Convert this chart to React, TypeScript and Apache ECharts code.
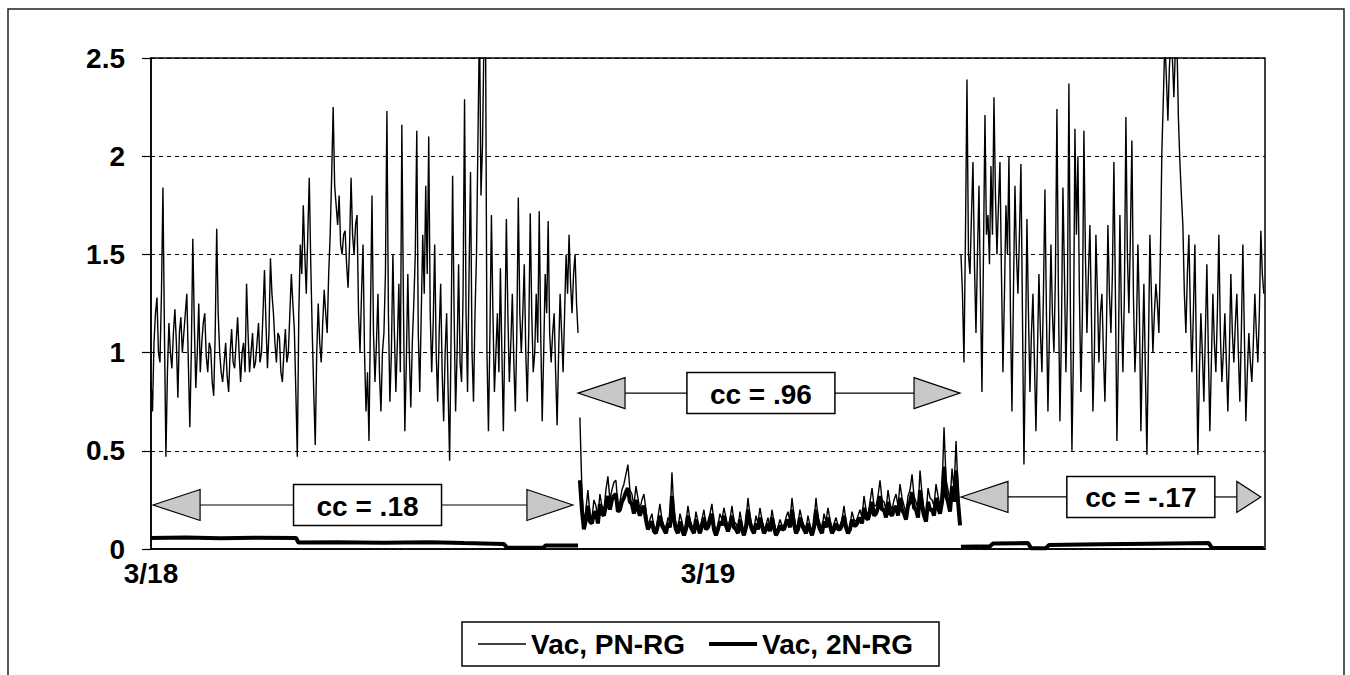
import React, { useEffect, useRef } from "react";
import * as echarts from "echarts";

// ---------- data ----------
const SERIES_NAMES = ["Vac, PN-RG", "Vac, 2N-RG"];
const X_TICK_LABELS = ["3/18", "3/19"]; // at 0 h and 24 h
const X_MAX_HOURS = 48;
const Y_MIN = 0;
const Y_MAX = 2.5;
const Y_STEP = 0.5;

// segment time spans (hours from 3/18 00:00)
const SEG1 = [0, 18.4];
const SEG2 = [18.48, 34.86];
const SEG3 = [34.9, 47.95];

// Vac, PN-RG (thin line), evenly sampled within each segment
const PN_SEG1 = [
  0.85, 0.7, 1.05, 1.2, 1.28, 1.0, 0.95, 1.3, 1.84, 1.1, 0.47, 0.9, 1.15, 1.0, 0.92, 1.1, 1.22, 1.05, 0.77, 1.1,
  1.18, 1.0, 1.1, 1.2, 1.3, 0.95, 0.62, 1.0, 1.58, 1.15, 0.82, 1.0, 1.25, 0.9, 1.05, 1.15, 1.2, 0.98, 0.9, 1.05,
  1.02, 0.85, 0.78, 1.1, 1.63, 1.2, 1.0, 0.9, 0.85, 0.95, 1.05, 0.88, 0.8, 1.0, 1.12, 0.95, 0.92, 1.05, 1.18, 1.0,
  0.85, 1.0, 1.05, 0.9, 1.35, 1.1, 0.9, 1.0, 1.1, 0.92, 0.95, 1.05, 1.15, 0.95, 1.0, 1.2, 1.42, 1.15, 0.92, 1.1,
  1.48, 1.3, 1.2, 1.05, 0.95, 1.1, 1.08, 0.9, 0.85, 1.0, 1.12, 0.95, 1.0, 1.2, 1.4, 1.25, 1.12, 0.8, 0.47, 1.2,
  1.55, 1.4, 1.75, 1.5, 1.3, 1.6, 1.89, 1.45, 1.1, 0.8, 0.53, 1.0, 1.25, 1.05, 0.95, 1.15, 1.32, 1.2, 1.1, 1.4,
  1.6, 1.9, 2.25, 1.85, 1.75, 1.65, 1.8, 1.55, 1.5, 1.6, 1.62, 1.45, 1.33, 1.55, 1.89, 1.6, 1.5, 1.65, 1.7, 1.2,
  1.0, 1.3, 1.55, 1.0, 0.7, 0.9, 0.55, 1.2, 1.8, 1.1, 0.85, 1.05, 1.3, 0.9, 0.7, 1.0, 1.1, 1.4, 2.23, 1.2,
  0.75, 1.0, 1.5, 1.1, 0.8, 1.05, 1.35, 0.9, 2.16, 1.3, 0.6, 0.95, 1.4, 1.0, 0.72, 1.05, 1.25, 1.5, 2.13, 1.1,
  0.8, 1.2, 1.6, 1.3, 1.85, 1.4, 2.1, 1.2, 0.9, 1.15, 1.55, 1.0, 0.75, 1.1, 1.35, 0.9, 0.65, 1.0, 1.2, 0.8,
  0.45, 1.1, 1.9, 1.2, 0.7, 1.0, 1.45, 0.95, 0.85, 1.3, 2.29, 1.2, 0.8, 1.4, 1.92, 1.0, 0.75, 1.2, 1.5, 2.1,
  2.7, 1.8, 2.05, 2.6, 2.75, 1.0, 0.6, 1.1, 1.7, 1.2, 0.8, 1.0, 1.2, 0.9, 1.43, 1.0, 0.6, 1.1, 1.68, 1.2,
  0.85, 1.05, 1.3, 0.95, 0.7, 1.1, 1.79, 1.2, 1.0, 1.2, 1.45, 1.0, 0.75, 1.1, 1.71, 1.2, 0.9, 1.0, 1.3, 1.05,
  1.72, 1.1, 0.65, 1.0, 1.4, 1.2, 1.67, 1.1, 0.95, 1.1, 1.2, 0.9, 0.63, 1.0, 1.3, 1.1, 0.9, 1.2, 1.5, 1.3,
  1.6, 1.35, 1.2, 1.4, 1.5, 1.25, 1.1,
];

const PN_SEG2 = [
  0.67, 0.3, 0.12, 0.2, 0.3, 0.18, 0.15, 0.25, 0.22, 0.16, 0.28, 0.22, 0.2, 0.3, 0.37, 0.25, 0.3, 0.34, 0.35, 0.22,
  0.24, 0.3, 0.33, 0.38, 0.43, 0.3, 0.28, 0.22, 0.32, 0.26, 0.2, 0.25, 0.28, 0.2, 0.12, 0.15, 0.18, 0.11, 0.1, 0.16,
  0.23, 0.15, 0.12, 0.1, 0.16, 0.14, 0.39, 0.2, 0.13, 0.1, 0.18, 0.14, 0.09, 0.13, 0.22, 0.15, 0.12, 0.1, 0.19, 0.14,
  0.1, 0.15, 0.2, 0.12, 0.14, 0.18, 0.23, 0.13, 0.09, 0.12, 0.18, 0.15, 0.21, 0.16, 0.11, 0.15, 0.22, 0.14, 0.13, 0.1,
  0.19, 0.13, 0.08, 0.14, 0.26, 0.17, 0.12, 0.1, 0.17, 0.13, 0.21, 0.15, 0.1, 0.12, 0.16, 0.11, 0.2, 0.14, 0.09, 0.11,
  0.15, 0.12, 0.12, 0.16, 0.19, 0.14, 0.26, 0.17, 0.1, 0.13, 0.2, 0.15, 0.12, 0.1, 0.17, 0.12, 0.09, 0.14, 0.26, 0.16,
  0.13, 0.1, 0.18, 0.14, 0.21, 0.15, 0.1, 0.13, 0.16, 0.12, 0.12, 0.15, 0.22, 0.14, 0.09, 0.12, 0.19, 0.15, 0.14, 0.17,
  0.2, 0.16, 0.27, 0.2, 0.17, 0.24, 0.31, 0.22, 0.22, 0.27, 0.35, 0.25, 0.24, 0.2, 0.3, 0.23, 0.2, 0.25, 0.28, 0.22,
  0.33, 0.26, 0.22, 0.18, 0.27, 0.3, 0.38, 0.27, 0.24, 0.2, 0.4, 0.28, 0.2, 0.17, 0.31, 0.26, 0.25, 0.22, 0.33, 0.27,
  0.22, 0.3, 0.62, 0.35, 0.3, 0.24, 0.41, 0.3, 0.55, 0.3, 0.15,
];

const PN_SEG3 = [
  1.5, 1.3, 0.95, 1.6, 2.39, 1.5, 1.4, 1.7, 1.97, 1.45, 1.1, 1.5, 1.85, 1.3, 0.8, 1.5, 2.21, 1.6, 1.7, 1.45,
  1.95, 1.6, 2.3, 1.8, 1.5, 1.75, 1.97, 1.4, 0.9, 1.3, 1.75, 1.5, 2.0, 1.2, 0.7, 1.3, 1.85, 1.5, 1.3, 1.6,
  1.96, 1.2, 0.43, 1.0, 1.68, 1.2, 0.8, 1.1, 1.3, 0.95, 0.6, 1.0, 1.4, 1.1, 0.9, 1.3, 1.83, 1.2, 0.7, 1.1,
  1.55, 1.2, 1.0, 1.4, 2.24, 1.3, 0.65, 1.1, 1.84, 1.4, 0.9, 1.3, 2.37, 1.2, 0.5, 1.0, 2.14, 1.6, 2.0, 1.3,
  0.8, 1.2, 2.13, 1.5, 1.1, 1.4, 1.65, 1.2, 0.7, 1.0, 1.6, 1.3, 0.95, 1.2, 1.3, 1.0, 0.75, 1.1, 1.65, 1.3,
  1.1, 1.4, 1.97, 1.3, 0.55, 1.0, 1.7, 1.2, 0.9, 1.3, 2.2, 1.5, 1.2, 1.6, 2.08, 1.3, 0.9, 1.1, 1.55, 1.2,
  0.6, 1.0, 1.35, 0.9, 0.48, 1.0, 1.6, 1.3, 1.0, 1.2, 1.35, 1.25, 1.1, 1.5, 2.03, 2.3, 2.6, 2.4, 2.18, 2.45,
  2.6, 2.5, 2.3, 2.55, 2.6, 2.2, 1.97, 1.8, 1.65, 1.3, 1.1, 1.4, 1.6, 1.2, 0.9, 1.2, 1.55, 1.0, 0.48, 0.9,
  1.2, 1.0, 0.75, 1.1, 1.45, 1.0, 0.6, 0.95, 1.3, 1.05, 0.9, 1.2, 1.6, 1.1, 0.85, 1.0, 1.2, 0.95, 0.7, 1.0,
  1.4, 1.1, 0.95, 1.15, 1.3, 1.0, 0.75, 1.1, 1.55, 1.1, 0.65, 0.9, 1.1, 0.95, 0.85, 1.05, 1.3, 1.1, 0.95, 1.2,
  1.62, 1.4, 1.3,
];

// Vac, 2N-RG (thick line)
const N2_SEG1_HOURS = [0, 1.5, 3, 4.5, 6.25, 6.35, 8, 10, 12, 13.5, 15.2, 15.35, 16.9, 17.0, 18.4];
const N2_SEG1_VALUES = [0.056, 0.058, 0.055, 0.057, 0.056, 0.033, 0.035, 0.032, 0.034, 0.03, 0.026, 0.006, 0.006, 0.018, 0.018];

const N2_SEG2 = [
  0.35, 0.2, 0.1, 0.15, 0.22, 0.14, 0.13, 0.18, 0.19, 0.13, 0.23, 0.18, 0.17, 0.22, 0.27, 0.2, 0.25, 0.27, 0.28, 0.19,
  0.2, 0.24, 0.26, 0.29, 0.31, 0.24, 0.23, 0.18, 0.25, 0.2, 0.17, 0.2, 0.22, 0.15, 0.1, 0.12, 0.14, 0.09, 0.08, 0.12,
  0.17, 0.12, 0.1, 0.08, 0.13, 0.11, 0.27, 0.15, 0.1, 0.08, 0.14, 0.1, 0.07, 0.1, 0.17, 0.12, 0.1, 0.08, 0.15, 0.11,
  0.08, 0.12, 0.16, 0.1, 0.11, 0.14, 0.18, 0.1, 0.07, 0.1, 0.14, 0.12, 0.17, 0.12, 0.09, 0.12, 0.17, 0.11, 0.1, 0.08,
  0.15, 0.1, 0.07, 0.11, 0.2, 0.13, 0.1, 0.08, 0.13, 0.1, 0.16, 0.12, 0.08, 0.1, 0.13, 0.09, 0.16, 0.11, 0.07, 0.09,
  0.12, 0.1, 0.1, 0.13, 0.15, 0.11, 0.2, 0.13, 0.08, 0.1, 0.16, 0.12, 0.1, 0.08, 0.13, 0.1, 0.07, 0.11, 0.2, 0.13,
  0.1, 0.08, 0.14, 0.11, 0.16, 0.12, 0.08, 0.1, 0.13, 0.1, 0.1, 0.12, 0.17, 0.11, 0.08, 0.1, 0.15, 0.12, 0.12, 0.14,
  0.16, 0.13, 0.21, 0.16, 0.15, 0.19, 0.24, 0.17, 0.18, 0.21, 0.27, 0.2, 0.2, 0.16, 0.24, 0.18, 0.17, 0.2, 0.22, 0.17,
  0.26, 0.2, 0.18, 0.15, 0.22, 0.24, 0.29, 0.21, 0.2, 0.16, 0.3, 0.22, 0.17, 0.14, 0.24, 0.2, 0.2, 0.17, 0.26, 0.21,
  0.18, 0.24, 0.42, 0.27, 0.24, 0.19, 0.32, 0.24, 0.4, 0.24, 0.12,
];

const N2_SEG3_HOURS = [34.9, 36.15, 36.28, 37.79, 37.92, 38.56, 38.69, 40.89, 43.04, 45.58, 45.71, 47.95];
const N2_SEG3_VALUES = [0.012, 0.014, 0.028, 0.03, 0.004, 0.004, 0.02, 0.024, 0.027, 0.03, 0.005, 0.005];

// correlation annotations: arrow from/to (hours), level (value), label centre (hours)
const CC_LABELS = ["cc = .18", "cc = .96", "cc = -.17"];
const CC_FROM = [0.09, 18.4, 34.9];
const CC_TO = [18.18, 34.86, 47.82];
const CC_LEVEL = [0.224, 0.794, 0.265];
const CC_LABEL_AT = [9.33, 26.28, 42.65];

// ---------- helpers ----------
const FONT = "'Liberation Sans', Arial, Helvetica, sans-serif";

function spread(values: number[], span: number[]) {
  const n = values.length;
  return values.map((v, i) => [span[0] + (i * (span[1] - span[0])) / (n - 1), v]);
}
function pairs(ts: number[], vs: number[]) {
  return ts.map((t, i) => [t, vs[i]]);
}

const pnData: any[] = [
  ...spread(PN_SEG1, SEG1),
  [(SEG1[1] + SEG2[0]) / 2, null],
  ...spread(PN_SEG2, SEG2),
  [(SEG2[1] + SEG3[0]) / 2, null],
  ...spread(PN_SEG3, SEG3),
];
const n2Data: any[] = [
  ...pairs(N2_SEG1_HOURS, N2_SEG1_VALUES),
  [(SEG1[1] + SEG2[0]) / 2, null],
  ...spread(N2_SEG2, SEG2),
  [(SEG2[1] + SEG3[0]) / 2, null],
  ...pairs(N2_SEG3_HOURS, N2_SEG3_VALUES),
];

function annotationGraphics(chart: any) {
  const out: any[] = [];
  const bw = 148;
  const bh = 41;
  const hh = 15.5;
  CC_LABELS.forEach((label, i) => {
    const [xl, y] = chart.convertToPixel({ gridIndex: 0 }, [CC_FROM[i], CC_LEVEL[i]]);
    const [xr] = chart.convertToPixel({ gridIndex: 0 }, [CC_TO[i], CC_LEVEL[i]]);
    const [xc] = chart.convertToPixel({ gridIndex: 0 }, [CC_LABEL_AT[i], CC_LEVEL[i]]);
    const hwL = 47;
    const hwR = i === 2 ? 24 : 46;
    const lineStyle = { stroke: "#000", lineWidth: 1.2 };
    const triStyle = { fill: "#c8c8c8", stroke: "#000", lineWidth: 1.2 };
    out.push(
      { type: "line", silent: true, z: 50, shape: { x1: xl + hwL, y1: y, x2: xc - bw / 2, y2: y }, style: lineStyle },
      { type: "line", silent: true, z: 50, shape: { x1: xc + bw / 2, y1: y, x2: xr - hwR, y2: y }, style: lineStyle },
      { type: "polygon", silent: true, z: 51, shape: { points: [[xl, y], [xl + hwL, y - hh], [xl + hwL, y + hh]] }, style: triStyle },
      { type: "polygon", silent: true, z: 51, shape: { points: [[xr, y], [xr - hwR, y - hh], [xr - hwR, y + hh]] }, style: triStyle },
      { type: "rect", silent: true, z: 52, shape: { x: xc - bw / 2, y: y - bh / 2, width: bw, height: bh }, style: { fill: "#fff", stroke: "#000", lineWidth: 1.5 } },
      {
        type: "text",
        silent: true,
        z: 53,
        x: xc,
        y: y + 1,
        style: { text: label, fill: "#000", fontSize: 28, fontWeight: "bold", fontFamily: FONT, align: "center", verticalAlign: "middle" },
      }
    );
  });
  // outer frame of the figure
  out.push({
    type: "rect",
    silent: true,
    z: 40,
    shape: { x: 8, y: 9, width: 1336, height: 720 },
    style: { fill: "none", stroke: "#222", lineWidth: 1.5 },
  });
  return out;
}

export default function App() {
  const ref = useRef<HTMLDivElement>(null);
  useEffect(() => {
    if (!ref.current) return;
    const chart = echarts.init(ref.current, undefined, { renderer: "svg" });
    chart.setOption({
      animation: false,
      backgroundColor: "#fff",
      grid: { left: 151, top: 58, right: 85, bottom: 126, show: true, borderColor: "#000", borderWidth: 1.5, backgroundColor: "transparent" },
      legend: {
        data: [
          { name: SERIES_NAMES[0], icon: "path://M0,0H48V1.3H0Z" },
          { name: SERIES_NAMES[1], icon: "path://M0,0H48V4H0Z" },
        ],
        left: 462,
        top: 622,
        orient: "horizontal",
        itemWidth: 48,
        itemHeight: 14,
        itemGap: 24,
        symbolKeepAspect: true,
        padding: [8, 26, 8, 16],
        borderColor: "#000",
        borderWidth: 1.5,
        backgroundColor: "#fff",
        selectedMode: false,
        itemStyle: { color: "#000" },
        textStyle: { fontSize: 28, fontWeight: "bold", color: "#000", fontFamily: FONT },
      },
      xAxis: {
        type: "value",
        min: 0,
        max: X_MAX_HOURS,
        interval: 24,
        axisLine: { show: true, lineStyle: { color: "#000", width: 1.5 } },
        axisTick: { show: false },
        splitLine: { show: false },
        axisLabel: {
          margin: 10,
          color: "#000",
          fontSize: 28,
          fontWeight: "bold",
          fontFamily: FONT,
          formatter: (v: number) => X_TICK_LABELS[Math.round(v / 24)] || "",
        },
      },
      yAxis: {
        type: "value",
        min: Y_MIN,
        max: Y_MAX,
        interval: Y_STEP,
        axisLine: { show: true, lineStyle: { color: "#000", width: 1.5 } },
        axisTick: { show: true, length: 9, inside: false, lineStyle: { color: "#000", width: 1.2 } },
        splitLine: { show: true, lineStyle: { color: "#000", type: [4, 4], width: 1.2 } },
        axisLabel: {
          margin: 26,
          color: "#000",
          fontSize: 28,
          fontWeight: "bold",
          fontFamily: FONT,
          formatter: (v: number) => String(v),
        },
      },
      series: [
        {
          name: SERIES_NAMES[0],
          type: "line",
          data: pnData,
          symbol: "none",
          showSymbol: false,
          connectNulls: false,
          silent: true,
          clip: true,
          lineStyle: { color: "#000", width: 1.4 },
          itemStyle: { color: "#000" },
          z: 3,
        },
        {
          name: SERIES_NAMES[1],
          type: "line",
          data: n2Data,
          symbol: "none",
          showSymbol: false,
          connectNulls: false,
          silent: true,
          clip: true,
          lineStyle: { color: "#000", width: 4 },
          itemStyle: { color: "#000" },
          z: 4,
        },
      ],
    });
    chart.setOption({ graphic: annotationGraphics(chart) });
    return () => chart.dispose();
  }, []);
  return (
    <div
      ref={ref}
      style={{ position: "absolute", left: 0, top: 0, width: 1350, height: 675, background: "#fff" }}
    />
  );
}
